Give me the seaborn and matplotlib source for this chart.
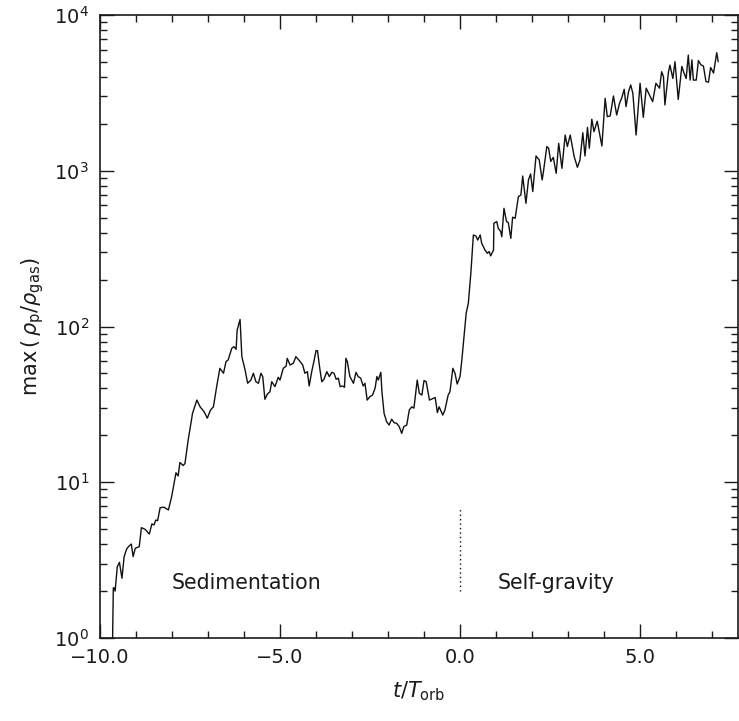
import numpy as np
import pandas as pd
import matplotlib
matplotlib.use("Agg")
import matplotlib.pyplot as plt
import seaborn as sns

# ---- data ----
t = [-9.65, -9.63, -9.61, -9.58, -9.52, -9.46, -9.39, -9.33, -9.26, -9.19,
     -9.13, -9.08, -9.02, -8.91, -8.85, -8.75, -8.63, -8.56, -8.50, -8.45,
     -8.40, -8.33, -8.22, -8.10, -8.01, -7.89, -7.83, -7.78, -7.69, -7.64,
     -7.55, -7.43, -7.31, -7.22, -7.11, -7.02, -6.93, -6.85, -6.76, -6.67,
     -6.57, -6.50, -6.44, -6.34, -6.28, -6.22, -6.19, -6.11, -6.06, -5.97,
     -5.90, -5.81, -5.74, -5.67, -5.60, -5.53, -5.48, -5.42, -5.35, -5.28,
     -5.23, -5.14, -5.05, -5.00, -4.91, -4.83, -4.80, -4.72, -4.63, -4.56,
     -4.46, -4.37, -4.31, -4.24, -4.19, -4.12, -4.06, -4.00, -3.96, -3.89,
     -3.84, -3.78, -3.70, -3.63, -3.56, -3.50, -3.44, -3.38, -3.33, -3.26,
     -3.21, -3.17, -3.13, -3.06, -2.96, -2.89, -2.83, -2.76, -2.69, -2.64,
     -2.58, -2.50, -2.43, -2.36, -2.31, -2.27, -2.20, -2.17, -2.11, -2.04,
     -1.97, -1.90, -1.83, -1.76, -1.69, -1.62, -1.56, -1.48, -1.41, -1.34,
     -1.28, -1.19, -1.13, -1.06, -1.00, -0.94, -0.85, -0.74, -0.69, -0.63,
     -0.58, -0.48, -0.42, -0.33, -0.28, -0.20, -0.14, -0.08, 0.00, 0.05,
     0.11, 0.17, 0.23, 0.30, 0.37, 0.44, 0.49, 0.56, 0.60, 0.69,
     0.76, 0.81, 0.85, 0.93, 0.94, 1.02, 1.06, 1.13, 1.16, 1.22,
     1.29, 1.34, 1.41, 1.46, 1.53, 1.62, 1.69, 1.74, 1.83, 1.90,
     1.96, 2.02, 2.11, 2.20, 2.28, 2.31, 2.41, 2.46, 2.52, 2.59,
     2.67, 2.74, 2.83, 2.92, 2.98, 3.06, 3.17, 3.26, 3.33, 3.41,
     3.47, 3.54, 3.59, 3.66, 3.72, 3.81, 3.94, 4.03, 4.09, 4.17,
     4.26, 4.35, 4.43, 4.49, 4.56, 4.61, 4.68, 4.74, 4.80, 4.89,
     5.00, 5.09, 5.17, 5.26, 5.35, 5.44, 5.54, 5.60, 5.65, 5.69,
     5.79, 5.83, 5.91, 5.97, 6.06, 6.16, 6.22, 6.28, 6.34, 6.39,
     6.44, 6.48, 6.56, 6.62, 6.69, 6.76, 6.83, 6.90, 6.96, 7.04,
     7.13, 7.17]
rho = [1.0, 2.1, 2.1, 2.0, 2.87, 3.06, 2.42, 3.33, 3.73, 3.90,
       4.01, 3.33, 3.77, 3.86, 5.11, 4.99, 4.65, 5.40, 5.32, 5.72,
       5.66, 6.87, 6.91, 6.64, 8.08, 11.5, 10.97, 13.4, 12.8, 13.2,
       18.7, 27.7, 33.7, 30.5, 28.4, 25.8, 29.1, 30.5, 41.1, 53.9,
       50.1, 59.5, 61.0, 72.5, 74.2, 71.4, 95.0, 111.0, 64.0, 52.6,
       43.2, 45.3, 50.1, 44.2, 43.2, 50.1, 47.7, 34.1, 36.9, 38.1,
       44.2, 41.1, 47.2, 45.3, 53.9, 55.7, 62.5, 56.6, 58.1, 64.0,
       60.3, 56.6, 50.1, 51.3, 41.5, 51.3, 59.5, 70.0, 70.0, 52.6,
       44.2, 45.8, 51.3, 47.7, 50.8, 50.1, 45.8, 46.6, 41.1, 41.5,
       40.7, 62.5, 59.5, 47.7, 43.2, 50.8, 47.7, 46.6, 41.5, 43.2,
       33.7, 35.5, 36.3, 40.1, 47.7, 45.3, 50.8, 38.1, 27.7, 24.5,
       23.3, 25.4, 24.1, 23.9, 22.8, 20.6, 22.8, 23.3, 29.1, 30.5,
       29.9, 45.3, 37.2, 36.3, 45.0, 44.2, 33.7, 34.6, 35.0, 28.0,
       30.5, 27.0, 29.1, 36.3, 38.1, 53.9, 50.1, 42.7, 47.7, 61.0,
       86.0, 121.5, 141.0, 220.0, 387.0, 381.0, 359.0, 387.0, 343.0, 310.0,
       295.0, 303.0, 284.0, 310.0, 460.0, 472.0, 427.0, 407.0, 377.0, 574.0,
       472.0, 465.0, 368.0, 503.0, 495.0, 682.0, 699.0, 925.0, 618.0, 873.0,
       953.0, 735.0, 1244.0, 1172.0, 873.0, 963.0, 1430.0, 1395.0, 1148.0, 1219.0,
       963.0, 1500.0, 1037.0, 1695.0, 1430.0, 1695.0, 1233.0, 1052.0, 1172.0, 1754.0,
       1244.0, 1900.0, 1395.0, 2142.0, 1783.0, 2080.0, 1442.0, 2918.0, 2225.0, 2250.0,
       3020.0, 2280.0, 2711.0, 2930.0, 3335.0, 2580.0, 3220.0, 3555.0, 3140.0, 1695.0,
       3645.0, 2203.0, 3390.0, 3065.0, 2780.0, 3645.0, 3390.0, 4325.0, 4015.0, 2645.0,
       4325.0, 4765.0, 3910.0, 5010.0, 2870.0, 4680.0, 4240.0, 3910.0, 5530.0, 3820.0,
       5150.0, 3820.0, 3820.0, 5100.0, 4790.0, 4700.0, 3740.0, 3700.0, 4600.0, 4240.0,
       5730.0, 5010.0]
marker_t = [0.0, 0.0]
marker_y = [2.0, 6.8]
xtick_vals = [-10.0, -5.0, 0.0, 5.0]
xtick_labels = ["\u221210.0", "\u22125.0", "0.0", "5.0"]
phase_labels = ["Sedimentation", "Self-gravity"]
phase_t = [-8.0, 1.03]
phase_y = [2.25, 2.25]

n = min(len(t), len(rho))
df = pd.DataFrame({"t": t[:n], "rho": rho[:n]})

sns.set_theme(style="ticks")
plt.rcParams['font.family'] = ['DejaVu Sans']
plt.rcParams['mathtext.fontset'] = 'dejavusans'

fig = plt.figure(figsize=(7.39, 7.21), dpi=100)
ax = fig.add_axes([100/739, 83/721, 638/739, 623/721])

sns.lineplot(data=df, x="t", y="rho", ax=ax, color="#111111", linewidth=1.0,
             sort=False, estimator=None)
ax.plot(marker_t, marker_y, linestyle=(0, (1, 2.2)), color="#111111", linewidth=1.0)

ax.set_yscale("log")
ax.set_xlim(-10.0, 7.72)
ax.set_ylim(1.0, 1e4)

ax.set_xticks(xtick_vals)
ax.set_xticklabels(xtick_labels)
ax.xaxis.set_minor_locator(matplotlib.ticker.MultipleLocator(1.0))

ax.tick_params(which="both", direction="in", top=True, right=True, width=1.0, colors="#1a1a1a",
               labelsize=14, labelcolor="#1a1a1a")
ax.tick_params(which="major", length=10)
ax.tick_params(which="minor", length=5)
ax.tick_params(axis="x", which="major", pad=7)
ax.tick_params(axis="y", which="major", pad=8)

for s in ax.spines.values():
    s.set_linewidth(1.2)
    s.set_color("#1a1a1a")

ax.set_xlabel(r"$t/T_{\rm orb}$", fontsize=15, labelpad=9, color="#1a1a1a")
ax.set_ylabel(r"max$\,(\,\rho_{\rm p}/\rho_{\rm gas})$", fontsize=15, labelpad=6, color="#1a1a1a")

for lab, xx, yy in zip(phase_labels, phase_t, phase_y):
    ax.text(xx, yy, lab, fontsize=14.8, ha="left", va="center", color="#1a1a1a")

fig.savefig("out.png", dpi=100)
